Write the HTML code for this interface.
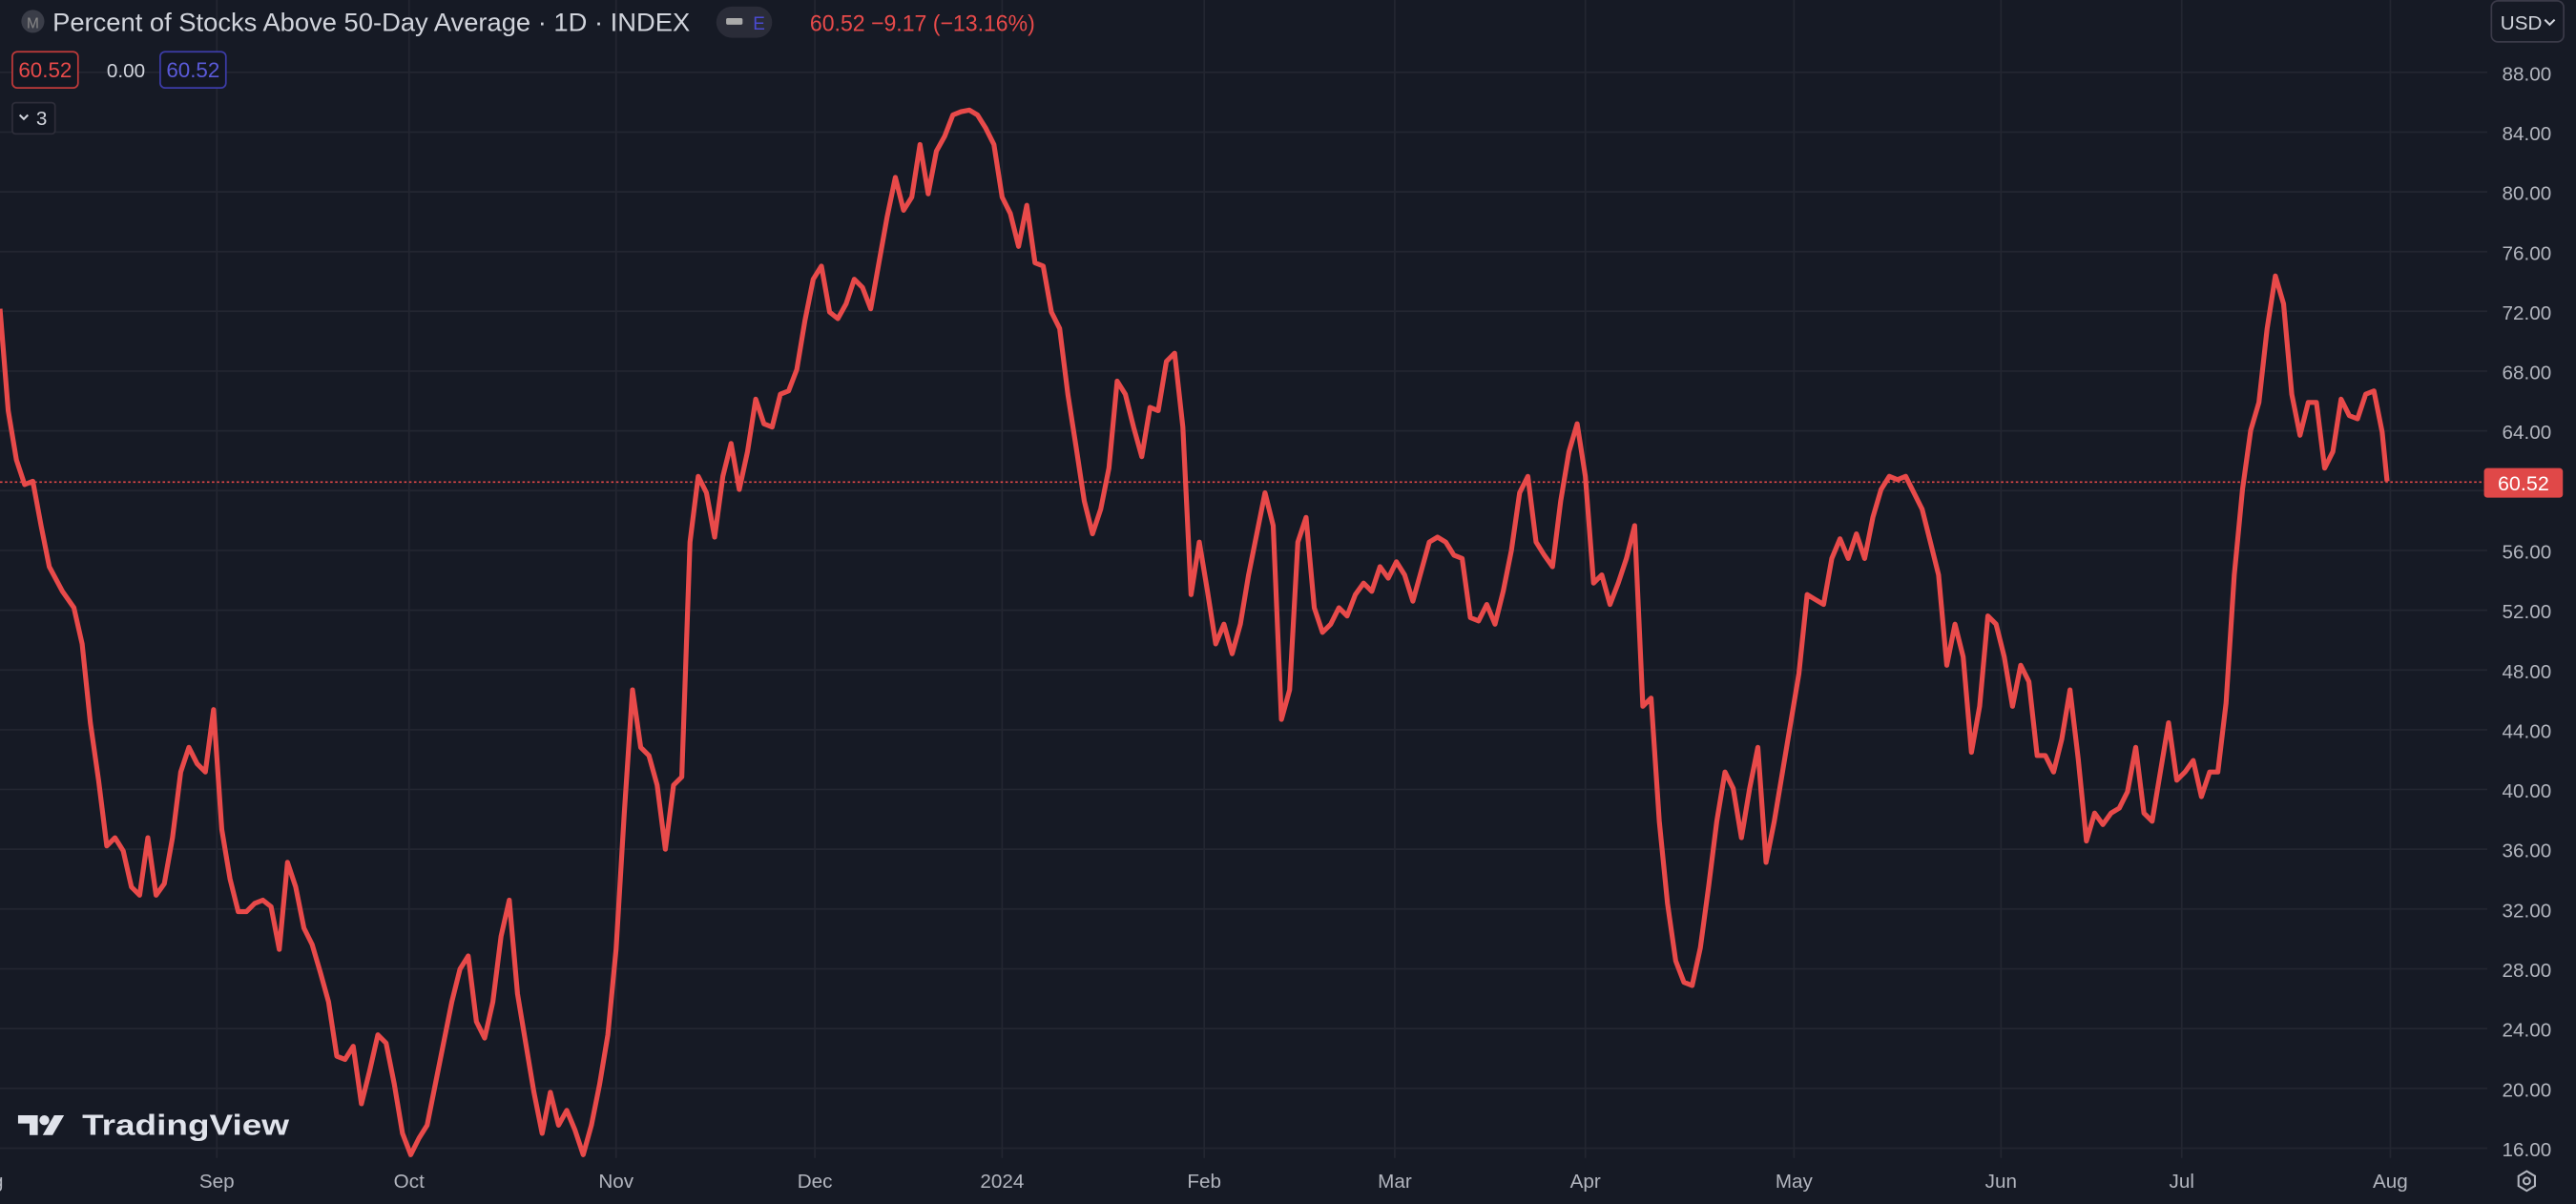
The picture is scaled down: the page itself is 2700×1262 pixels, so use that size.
<!DOCTYPE html>
<html><head><meta charset="utf-8"><style>
html,body{margin:0;padding:0;background:#161a25;width:2700px;height:1262px;overflow:hidden}
svg{display:block}
text{font-family:"Liberation Sans",sans-serif}
</style></head><body>
<svg width="2700" height="1262" viewBox="0 0 1568 733" preserveAspectRatio="none">
<rect width="1568" height="733" fill="#161a25"/>
<g stroke="#232631" stroke-width="1">
<line x1="0" x2="1514" y1="44" y2="44"/><line x1="0" x2="1514" y1="80.4" y2="80.4"/><line x1="0" x2="1514" y1="116.8" y2="116.8"/><line x1="0" x2="1514" y1="153.2" y2="153.2"/><line x1="0" x2="1514" y1="189.5" y2="189.5"/><line x1="0" x2="1514" y1="225.9" y2="225.9"/><line x1="0" x2="1514" y1="262.3" y2="262.3"/><line x1="0" x2="1514" y1="298.7" y2="298.7"/><line x1="0" x2="1514" y1="335.1" y2="335.1"/><line x1="0" x2="1514" y1="371.5" y2="371.5"/><line x1="0" x2="1514" y1="407.9" y2="407.9"/><line x1="0" x2="1514" y1="444.3" y2="444.3"/><line x1="0" x2="1514" y1="480.6" y2="480.6"/><line x1="0" x2="1514" y1="517" y2="517"/><line x1="0" x2="1514" y1="553.4" y2="553.4"/><line x1="0" x2="1514" y1="589.8" y2="589.8"/><line x1="0" x2="1514" y1="626.2" y2="626.2"/><line x1="0" x2="1514" y1="662.6" y2="662.6"/><line x1="0" x2="1514" y1="699" y2="699"/>
<line y1="0" y2="705" x1="132" x2="132"/><line y1="0" y2="705" x1="249" x2="249"/><line y1="0" y2="705" x1="375" x2="375"/><line y1="0" y2="705" x1="496" x2="496"/><line y1="0" y2="705" x1="610" x2="610"/><line y1="0" y2="705" x1="733" x2="733"/><line y1="0" y2="705" x1="849" x2="849"/><line y1="0" y2="705" x1="965" x2="965"/><line y1="0" y2="705" x1="1092" x2="1092"/><line y1="0" y2="705" x1="1218" x2="1218"/><line y1="0" y2="705" x1="1328" x2="1328"/><line y1="0" y2="705" x1="1455" x2="1455"/>
</g>
<line x1="0" x2="1514" y1="293.5" y2="293.5" stroke="#e04848" stroke-width="1" stroke-dasharray="1.5,1.5"/>
<polyline fill="none" stroke="#e84a4a" stroke-width="3" stroke-linejoin="round" points="0,188 5,250 10,280 15,295 20,293 25,320 30,345 38,360 45,370 50,392 55,440 60,475 65,515 70,510 75,518 80,540 85,545 90,510 95,545 100,538 105,510 110,470 115,455 120,465 125,470 130,432 135,505 140,535 145,555 150,555 155,550 160,548 165,552 170,578 175,525 180,540 185,565 190,575 195,592 200,610 205,643 210,645 215,637 220,672 225,652 230,630 235,635 240,660 245,690 250,703 255,693 260,685 265,660 270,635 275,610 280,590 285,582 290,622 295,632 300,610 305,570 310,548 315,605 320,635 325,665 330,690 335,665 340,685 345,676 350,688 355,703 360,685 365,660 370,630 375,578 380,495 385,420 390,455 395,460 400,478 405,517 410,478 415,473 420,330 425,290 430,300 435,327 440,290 445,270 450,298 455,275 460,243 465,258 470,260 475,240 480,238 485,225 490,195 495,170 500,162 505,190 510,194 515,185 520,170 525,175 530,188 535,160 540,132 545,108 550,128 555,120 560,88 565,118 570,92 575,83 580,70 585,68 590,67 595,70 600,78 605,88 610,120 615,130 620,150 625,125 630,160 635,162 640,190 645,200 650,240 655,272 660,305 665,325 670,310 675,285 680,232 685,240 690,260 695,278 700,248 705,250 710,220 715,215 720,260 725,362 730,330 735,360 740,392 745,380 750,398 755,380 760,350 765,325 770,300 775,320 780,438 785,420 790,330 795,315 800,370 805,385 810,380 815,370 820,375 825,362 830,355 835,360 840,345 845,352 850,342 855,350 860,366 865,348 870,330 875,327 880,330 885,338 890,340 895,376 900,378 905,368 910,380 915,360 920,335 925,300 930,290 935,330 940,338 945,345 950,305 955,275 960,258 965,290 970,355 975,350 980,368 985,355 990,340 995,320 1000,430 1005,425 1010,500 1015,550 1020,585 1025,598 1030,600 1035,577 1040,540 1045,500 1050,470 1055,480 1060,510 1065,480 1070,455 1075,525 1080,500 1085,470 1090,440 1095,410 1100,362 1105,365 1110,368 1115,340 1120,328 1125,340 1130,325 1135,340 1140,315 1145,298 1150,290 1155,292 1160,290 1165,300 1170,310 1175,330 1180,350 1185,405 1190,380 1195,400 1200,458 1205,430 1210,375 1215,380 1220,400 1225,430 1230,405 1235,415 1240,460 1245,460 1250,470 1255,450 1260,420 1265,462 1270,512 1275,495 1280,502 1285,495 1290,492 1295,482 1300,455 1305,495 1310,500 1315,470 1320,440 1325,475 1330,470 1335,463 1340,485 1345,470 1350,470 1355,428 1360,350 1365,298 1370,262 1375,245 1380,200 1385,168 1390,185 1395,240 1400,265 1405,245 1410,245 1415,285 1420,275 1425,243 1430,253 1435,255 1440,240 1445,238 1450,263 1453,293"/>
<g fill="#b2b5be" font-size="12" text-anchor="middle">
<text x="1538" y="49">88.00</text><text x="1538" y="85.4">84.00</text><text x="1538" y="121.8">80.00</text><text x="1538" y="158.2">76.00</text><text x="1538" y="194.5">72.00</text><text x="1538" y="230.9">68.00</text><text x="1538" y="267.3">64.00</text><text x="1538" y="340.1">56.00</text><text x="1538" y="376.5">52.00</text><text x="1538" y="412.9">48.00</text><text x="1538" y="449.3">44.00</text><text x="1538" y="485.6">40.00</text><text x="1538" y="522">36.00</text><text x="1538" y="558.4">32.00</text><text x="1538" y="594.8">28.00</text><text x="1538" y="631.2">24.00</text><text x="1538" y="667.6">20.00</text><text x="1538" y="704">16.00</text>
<text x="132" y="723">Sep</text><text x="249" y="723">Oct</text><text x="375" y="723">Nov</text><text x="496" y="723">Dec</text><text x="610" y="723">2024</text><text x="733" y="723">Feb</text><text x="849" y="723">Mar</text><text x="965" y="723">Apr</text><text x="1092" y="723">May</text><text x="1218" y="723">Jun</text><text x="1328" y="723">Jul</text><text x="1455" y="723">Aug</text>
<text x="2" y="723" text-anchor="end">Aug</text>
</g>
<rect x="1512" y="285" width="48" height="18" rx="2" fill="#e04848"/>
<text x="1536" y="298.5" fill="#fff" font-size="12.5" text-anchor="middle">60.52</text>
<rect x="1516.5" y="0.5" width="44" height="25" rx="4" fill="none" stroke="#3a3a48"/>
<text x="1522" y="18" fill="#d1d4dc" font-size="12">USD</text>
<path d="M1549 12 l3 3 l3 -3" stroke="#d1d4dc" fill="none" stroke-width="1.2"/>
<path d="M1533 716 l5 -3 l5 3 v6 l-5 3 l-5 -3z" fill="none" stroke="#b2b5be" stroke-width="1.2"/><circle cx="1538" cy="719" r="2" fill="none" stroke="#b2b5be" stroke-width="1.2"/>
<circle cx="20" cy="13" r="7" fill="#3a3d48"/><text x="20" y="17" fill="#888" font-size="9" text-anchor="middle">M</text>
<text x="32" y="19" fill="#d1d4dc" font-size="15.5" textLength="388" lengthAdjust="spacingAndGlyphs">Percent of Stocks Above 50-Day Average · 1D · INDEX</text>
<rect x="436" y="4" width="34" height="19" rx="9.5" fill="#2a2c38"/><rect x="442" y="11" width="10" height="4" rx="1" fill="#aaa"/><text x="462" y="18" fill="#4a4ad0" font-size="11" text-anchor="middle">E</text>
<text x="493" y="19" fill="#e84a4a" font-size="14" textLength="137" lengthAdjust="spacingAndGlyphs">60.52  −9.17 (−13.16%)</text>
<rect x="7.5" y="31.5" width="40" height="22" rx="3" fill="#131722" stroke="#c03a3a"/>
<text x="27.5" y="47" fill="#e84a4a" font-size="13" text-anchor="middle">60.52</text>
<text x="65" y="47" fill="#d1d4dc" font-size="12">0.00</text>
<rect x="97.5" y="31.5" width="40" height="22" rx="3" fill="#131722" stroke="#3c3ca8"/>
<text x="117.5" y="47" fill="#5a5ad8" font-size="13" text-anchor="middle">60.52</text>
<rect x="7.5" y="62.5" width="26" height="19" rx="2" fill="#131722" stroke="#2e2e3a"/>
<path d="M12 70 l2.5 2.5 l2.5 -2.5" stroke="#d1d4dc" fill="none" stroke-width="1.2"/><text x="22" y="76" fill="#d1d4dc" font-size="12">3</text>
<g fill="#e0e3eb"><path d="M11 679 h12 v12 h-5 v-7 h-7z"/><circle cx="27" cy="682" r="3"/><path d="M33 679 h6 l-7 12 h-6z"/></g>
<text x="50" y="691" fill="#e0e3eb" font-size="18" font-weight="bold" textLength="126" lengthAdjust="spacingAndGlyphs">TradingView</text>
</svg>
</body></html>
